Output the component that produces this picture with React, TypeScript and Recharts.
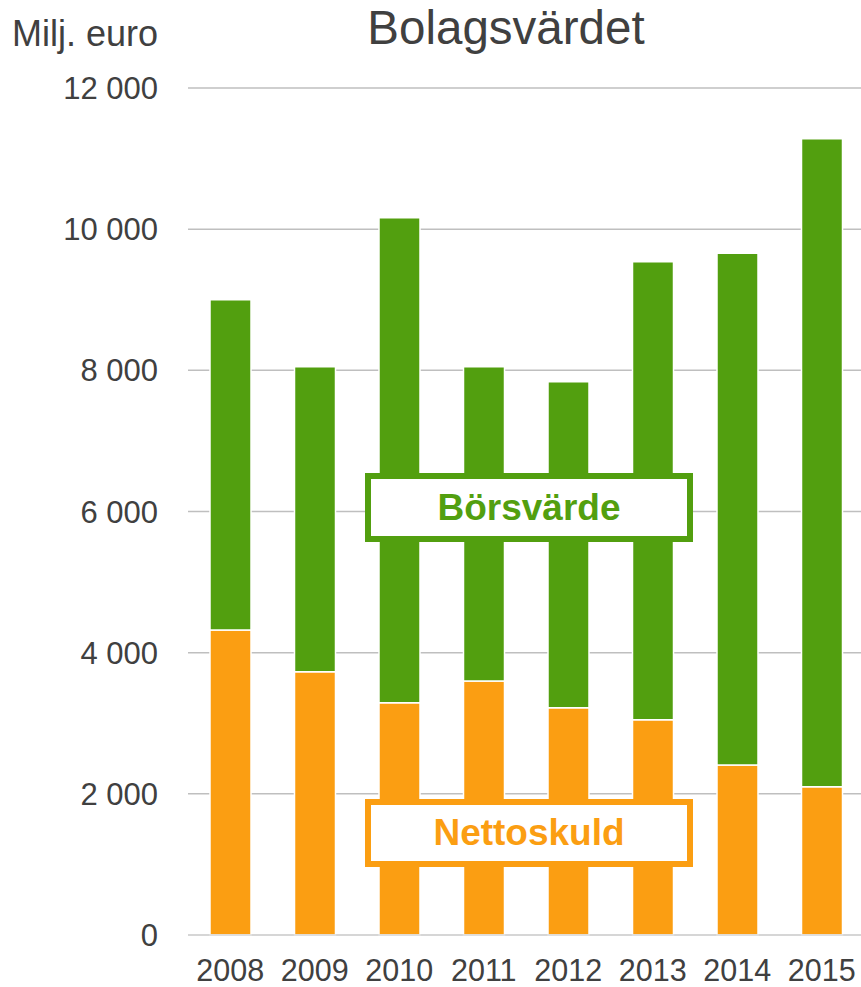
import React from "react";
import { BarChart, Bar, XAxis, YAxis, CartesianGrid } from "recharts";

const years = ["2008", "2009", "2010", "2011", "2012", "2013", "2014", "2015"];
const nettoskuld = [4320, 3730, 3290, 3600, 3220, 3050, 2410, 2100];
const borsvarde = [4680, 4320, 6870, 4450, 4620, 6490, 7250, 9180];
const yTicks = [0, 2000, 4000, 6000, 8000, 10000, 12000];

const GREEN = "#529F0F";
const ORANGE = "#FB9E12";
const TEXT = "#404040";
const FONT = "'Liberation Sans', Arial, sans-serif";

const data = years.map((y, i) => ({ year: y, netto: nettoskuld[i], bors: borsvarde[i] }));

const fmt = (v: number) => (v >= 1000 ? `${Math.floor(v / 1000)} ${String(v % 1000).padStart(3, "0")}` : String(v));

export default function App() {
  return (
    <div style={{ position: "absolute", left: 0, top: 0, width: 861, height: 987, overflow: "hidden", background: "#fff", fontFamily: FONT }}>
      <BarChart
        width={864}
        height={987}
        data={data}
        margin={{ top: 88, right: 0, bottom: 0, left: 0 }}
        barCategoryGap={0}
      >
        <CartesianGrid vertical={false} stroke="#bfbfbf" strokeWidth={1.5} />
        <XAxis
          dataKey="year"
          height={52}
          tickLine={false}
          tickSize={0}
          tickMargin={24}
          axisLine={{ stroke: "#d9d9d9", strokeWidth: 1.5 }}
          tick={{ fill: TEXT, fontSize: 30.5, fontFamily: FONT }}
          interval={0}
        />
        <YAxis
          width={188}
          domain={[0, 12000]}
          ticks={yTicks}
          tickFormatter={fmt}
          axisLine={false}
          tickLine={false}
          tickSize={0}
          tickMargin={30}
          tick={{ fill: TEXT, fontSize: 31, fontFamily: FONT }}
        />
        <Bar dataKey="netto" stackId="a" fill={ORANGE} barSize={41} stroke="#fff" strokeWidth={1.5} isAnimationActive={false} />
        <Bar dataKey="bors" stackId="a" fill={GREEN} barSize={41} stroke="#fff" strokeWidth={1.5} isAnimationActive={false} />
      </BarChart>
      <svg width={861} height={987} style={{ position: "absolute", left: 0, top: 0, pointerEvents: "none" }}>
        <text x={12} y={46} fontSize={36} fill={TEXT} fontFamily={FONT}>Milj. euro</text>
        <text x={506} y={44} fontSize={47.5} fill={TEXT} fontFamily={FONT} textAnchor="middle">Bolagsvärdet</text>
        <rect x={368} y={476} width={322} height={63} fill="#fff" stroke={GREEN} strokeWidth={6} />
        <text x={529} y={520} fontSize={37} fontWeight="bold" fill={GREEN} fontFamily={FONT} textAnchor="middle">Börsvärde</text>
        <rect x={368} y={802} width={322} height={62} fill="#fff" stroke={ORANGE} strokeWidth={6} />
        <text x={529} y={845} fontSize={37} fontWeight="bold" fill={ORANGE} fontFamily={FONT} textAnchor="middle">Nettoskuld</text>
      </svg>
    </div>
  );
}
